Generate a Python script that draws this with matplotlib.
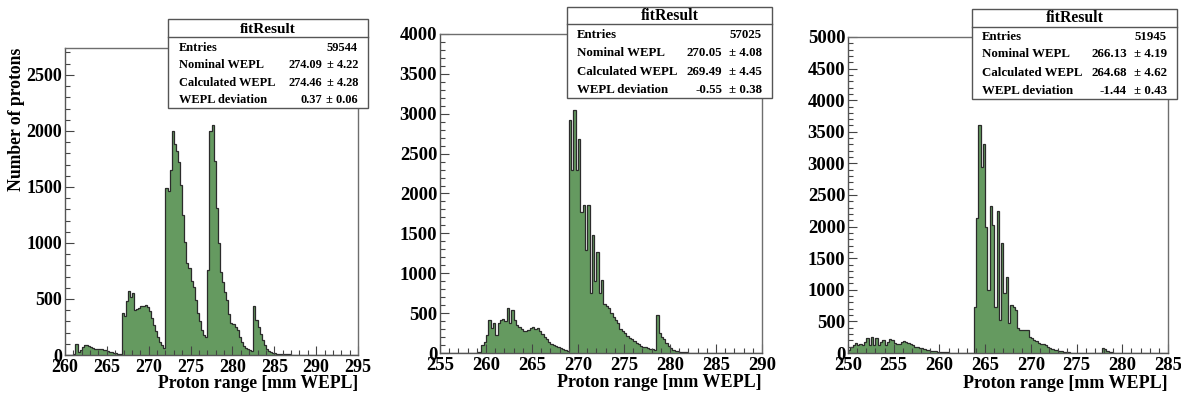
import numpy as np
import matplotlib
matplotlib.use("Agg")
import matplotlib.pyplot as plt
from matplotlib.ticker import MultipleLocator
from matplotlib.patches import Rectangle
from matplotlib.lines import Line2D

# ---------------- data ----------------
x_label = "Proton range [mm WEPL]"
y_label = "Number of protons"
box_title = "fitResult"
stat_names = ["Entries", "Nominal WEPL", "Calculated WEPL", "WEPL deviation"]

p1_range = (260, 295)
p1_ymax = 2740
p1_counts = [2, 3, 2, 4, 5, 98, 30, 45, 70, 85, 90, 80, 70, 60, 55, 58, 50, 52, 45, 42,
             40, 28, 30, 20, 15, 12, 8, 375, 350, 480, 570, 520, 550, 400, 410, 420, 435, 440, 445, 430,
             390, 330, 270, 210, 160, 120, 85, 65, 1490, 1460, 1650, 2000, 1880, 1820, 1720, 1520, 1250, 1010, 820, 780,
             660, 610, 495, 375, 300, 225, 180, 162, 760, 2000, 2055, 1730, 1310, 1000, 745, 655, 560, 490, 370, 290,
             280, 250, 220, 165, 120, 80, 60, 50, 45, 40, 440, 310, 250, 190, 135, 90, 50, 35, 25, 20,
             15, 12, 10, 8, 7, 6, 5, 5, 4, 4, 3, 3, 3, 2, 2, 2, 2, 1, 1, 1,
             1, 1, 1, 1, 1, 0, 0, 0, 0, 0, 0, 0, 0, 0, 0, 0, 0, 0, 0, 0]
p1_entries = "59544"
p1_stats = [("274.09", "4.22"), ("274.46", "4.28"), ("0.37", "0.06")]

p2_range = (255, 290)
p2_ymax = 4000
p2_counts = [3, 2, 4, 3, 5, 4, 3, 6, 4, 5, 3, 4, 5, 6, 5, 4, 8, 10, 100, 140,
             220, 420, 310, 370, 230, 380, 420, 430, 400, 570, 380, 540, 420, 350, 330, 300, 280, 275, 290, 310,
             320, 300, 310, 280, 240, 200, 170, 140, 110, 95, 90, 80, 60, 45, 35, 20, 2925, 2300, 3050, 2290,
             2680, 1770, 1860, 1290, 1850, 750, 1480, 900, 1270, 750, 915, 620, 590, 560, 500, 450, 414, 380, 300, 280,
             250, 210, 185, 180, 150, 120, 110, 90, 80, 70, 60, 50, 45, 40, 480, 250, 200, 180, 120, 90,
             60, 40, 30, 20, 15, 12, 10, 8, 6, 5, 5, 4, 4, 3, 3, 2, 2, 2, 1, 1,
             1, 1, 1, 1, 0, 0, 0, 0, 0, 0, 0, 0, 0, 0, 0, 0, 0, 0, 0, 0]
p2_entries = "57025"
p2_stats = [("270.05", "4.08"), ("269.49", "4.45"), ("-0.55", "0.38")]

p3_range = (250, 285)
p3_ymax = 5000
p3_counts = [40, 90, 130, 160, 130, 140, 130, 175, 245, 120, 260, 130, 230, 125, 180, 210, 130, 180, 220, 200,
             165, 150, 150, 180, 190, 175, 160, 140, 120, 100, 90, 80, 75, 65, 50, 40, 35, 30, 25, 20,
             16, 12, 10, 8, 6, 5, 4, 4, 3, 3, 3, 2, 2, 2, 2, 730, 2130, 3610, 2950, 3300,
             2000, 1000, 2320, 2030, 720, 2240, 520, 1740, 950, 1210, 470, 760, 720, 680, 390, 370, 365, 365, 360, 250,
             230, 205, 190, 160, 150, 140, 120, 90, 75, 65, 55, 45, 35, 25, 18, 12, 8, 5, 4, 3,
             3, 2, 2, 2, 2, 2, 1, 1, 1, 2, 2, 80, 60, 30, 15, 8, 5, 3, 2, 2,
             1, 1, 1, 1, 1, 0, 0, 0, 0, 0, 0, 0, 0, 0, 0, 0, 0, 0, 0, 0]
p3_entries = "51945"
p3_stats = [("266.13", "4.19"), ("264.68", "4.62"), ("-1.44", "0.43")]

# ---------------- style / layout ----------------
W, H = 1181, 394
GREEN = "#659a60"
EDGE = "#2b2b2b"
FRAME = "#6e6e6e"
plt.rcParams["font.family"] = ["Liberation Serif", "DejaVu Serif"]
plt.rcParams["font.weight"] = "bold"

fig = plt.figure(figsize=(W / 100, H / 100), dpi=100)


def fx(x):
    return x / W


def fy(y):
    return 1 - y / H


layout = [
    dict(l=65, r=358, t=48, b=355, box=(168, 19, 368, 108), hdr=37, hdr_y=29.5,
         rows=[48, 64.5, 83, 100], lab_x=179, val_r=322, err_r=358,
         fs_tick=13.0, fs_title=12.7, fs_box=8.9, fs_hdr=11.0, title_y=388),
    dict(l=440, r=762, t=34, b=353, box=(567, 7, 772, 98), hdr=24, hdr_y=16,
         rows=[35, 52.7, 71.7, 90], lab_x=577, val_r=722, err_r=762,
         fs_tick=13.5, fs_title=13.0, fs_box=9.3, fs_hdr=11.3, title_y=387),
    dict(l=848, r=1168, t=37, b=353, box=(972, 9, 1177, 99), hdr=27, hdr_y=18,
         rows=[37, 54, 73, 91], lab_x=982, val_r=1127, err_r=1167,
         fs_tick=13.5, fs_title=13.0, fs_box=9.3, fs_hdr=11.3, title_y=388),
]

panels = [
    (p1_range, p1_ymax, p1_counts, p1_entries, p1_stats),
    (p2_range, p2_ymax, p2_counts, p2_entries, p2_stats),
    (p3_range, p3_ymax, p3_counts, p3_entries, p3_stats),
]

for idx, (lay, (xr, ymax, counts, entries, stats)) in enumerate(zip(layout, panels)):
    ax = fig.add_axes([fx(lay["l"]), fy(lay["b"]),
                       (lay["r"] - lay["l"]) / W, (lay["b"] - lay["t"]) / H])
    counts = np.asarray(counts, dtype=float)
    edges = np.linspace(xr[0], xr[1], len(counts) + 1)
    ax.stairs(counts, edges, fill=True, facecolor=GREEN, edgecolor="none", linewidth=0)
    ax.stairs(counts, edges, color=EDGE, linewidth=0.9, baseline=0)
    ax.set_xlim(*xr)
    ax.set_ylim(0, ymax)
    ax.xaxis.set_major_locator(MultipleLocator(5))
    ax.xaxis.set_minor_locator(MultipleLocator(1))
    ax.yaxis.set_major_locator(MultipleLocator(500))
    ax.yaxis.set_minor_locator(MultipleLocator(100))
    ax.tick_params(which="both", direction="in", top=False, right=False,
                   color="#444444", width=0.8, labelsize=lay["fs_tick"])
    ax.tick_params(which="major", length=6.5)
    ax.tick_params(which="minor", length=3.5)
    ax.tick_params(axis="x", pad=3.0)
    ax.tick_params(axis="y", pad=2)
    for s in ax.spines.values():
        s.set_color(FRAME)
        s.set_linewidth(1.0)
    ax.spines["left"].set_color("#555555")
    ax.spines["bottom"].set_color("#555555")

    # x axis title (right-aligned at axis end)
    fig.text(fx(lay["r"]), fy(lay["title_y"]), x_label, ha="right", va="baseline",
             fontsize=lay["fs_title"], fontweight="bold")
    if idx == 0:
        fig.text(fx(17), fy(lay["t"]), y_label, rotation=90, ha="center", va="top",
                 fontsize=lay["fs_title"], fontweight="bold")

    # statistics box
    bx0, by0, bx1, by1 = lay["box"]
    rect = Rectangle((fx(bx0), fy(by1)), (bx1 - bx0) / W, (by1 - by0) / H,
                     transform=fig.transFigure, facecolor="white", edgecolor="#555555",
                     linewidth=1.0, zorder=10)
    fig.add_artist(rect)
    fig.add_artist(Line2D([fx(bx0), fx(bx1)], [fy(lay["hdr"]), fy(lay["hdr"])],
                          transform=fig.transFigure, color="#555555", linewidth=1.0, zorder=11))
    fig.text(fx((bx0 + bx1) / 2), fy(lay["hdr_y"]), box_title, ha="center", va="center",
             fontsize=lay["fs_hdr"], fontweight="bold", zorder=12)
    rows = lay["rows"]
    fs = lay["fs_box"]
    fig.text(fx(lay["lab_x"]), fy(rows[0]), stat_names[0], ha="left", va="center",
             fontsize=fs, fontweight="bold", zorder=12)
    fig.text(fx(lay["err_r"]), fy(rows[0]), entries, ha="right", va="center",
             fontsize=fs, fontweight="bold", zorder=12)
    for name, (val, err), yy in zip(stat_names[1:], stats, rows[1:]):
        fig.text(fx(lay["lab_x"]), fy(yy), name, ha="left", va="center",
                 fontsize=fs, fontweight="bold", zorder=12)
        fig.text(fx(lay["val_r"]), fy(yy), val, ha="right", va="center",
                 fontsize=fs, fontweight="bold", zorder=12)
        fig.text(fx(lay["err_r"]), fy(yy), "\u00b1 " + err, ha="right", va="center",
                 fontsize=fs, fontweight="bold", zorder=12)

fig.savefig("out.png", dpi=100, facecolor="white")
